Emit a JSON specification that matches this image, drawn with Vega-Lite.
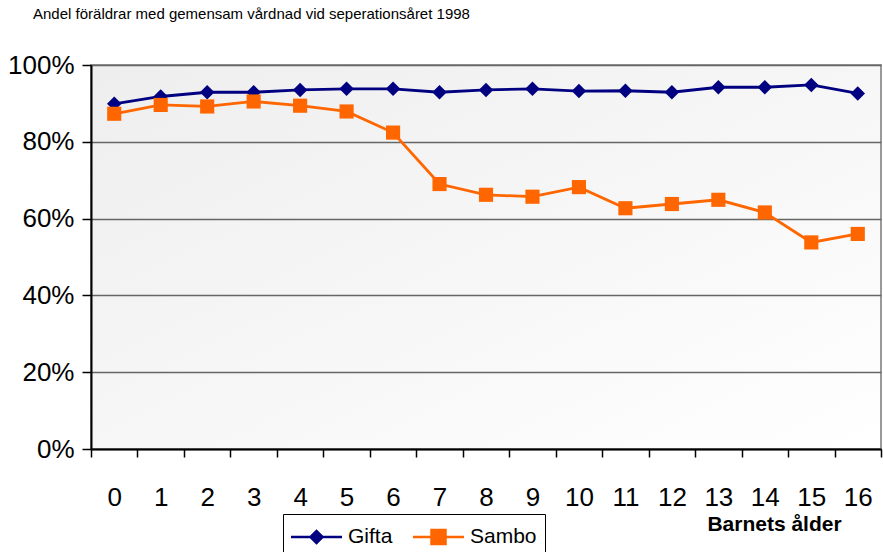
{
  "$schema": "https://vega.github.io/schema/vega-lite/v6.json",
  "width": 790,
  "height": 384,
  "autosize": {"type": "none"},
  "padding": {"left": 91, "top": 65, "right": 2, "bottom": 103},
  "background": "white",
  "title": {
    "text": "Andel föräldrar med gemensam vårdnad vid seperationsåret 1998",
    "anchor": "start",
    "frame": "group",
    "font": "Liberation Sans",
    "fontSize": 15,
    "fontWeight": "normal",
    "color": "black",
    "offset": 30,
    "dx": -58
  },
  "config": {
    "font": "Liberation Sans",
    "view": {
      "fill": {"gradient": "linear", "x1": 0, "y1": 0, "x2": 1, "y2": 1, "stops": [{"offset": 0, "color": "#eeeeee"}, {"offset": 0.6, "color": "#f8f8f8"}, {"offset": 1, "color": "#ffffff"}]},
      "stroke": "#999999",
      "strokeWidth": 2
    }
  },
  "data": {
    "values": [
      {"age": "0", "serie": "Gifta", "andel": 89.9},
      {"age": "1", "serie": "Gifta", "andel": 91.8},
      {"age": "2", "serie": "Gifta", "andel": 92.9},
      {"age": "3", "serie": "Gifta", "andel": 92.9},
      {"age": "4", "serie": "Gifta", "andel": 93.5},
      {"age": "5", "serie": "Gifta", "andel": 93.8},
      {"age": "6", "serie": "Gifta", "andel": 93.8},
      {"age": "7", "serie": "Gifta", "andel": 92.9},
      {"age": "8", "serie": "Gifta", "andel": 93.5},
      {"age": "9", "serie": "Gifta", "andel": 93.8},
      {"age": "10", "serie": "Gifta", "andel": 93.2},
      {"age": "11", "serie": "Gifta", "andel": 93.3},
      {"age": "12", "serie": "Gifta", "andel": 92.9},
      {"age": "13", "serie": "Gifta", "andel": 94.2},
      {"age": "14", "serie": "Gifta", "andel": 94.2},
      {"age": "15", "serie": "Gifta", "andel": 94.8},
      {"age": "16", "serie": "Gifta", "andel": 92.6},
      {"age": "0", "serie": "Sambo", "andel": 87.3},
      {"age": "1", "serie": "Sambo", "andel": 89.6},
      {"age": "2", "serie": "Sambo", "andel": 89.2},
      {"age": "3", "serie": "Sambo", "andel": 90.5},
      {"age": "4", "serie": "Sambo", "andel": 89.4},
      {"age": "5", "serie": "Sambo", "andel": 87.9},
      {"age": "6", "serie": "Sambo", "andel": 82.4},
      {"age": "7", "serie": "Sambo", "andel": 69.0},
      {"age": "8", "serie": "Sambo", "andel": 66.2},
      {"age": "9", "serie": "Sambo", "andel": 65.7},
      {"age": "10", "serie": "Sambo", "andel": 68.2},
      {"age": "11", "serie": "Sambo", "andel": 62.7},
      {"age": "12", "serie": "Sambo", "andel": 63.8},
      {"age": "13", "serie": "Sambo", "andel": 64.9},
      {"age": "14", "serie": "Sambo", "andel": 61.6},
      {"age": "15", "serie": "Sambo", "andel": 53.8},
      {"age": "16", "serie": "Sambo", "andel": 56.0}
    ]
  },
  "encoding": {
    "x": {
      "field": "age",
      "type": "ordinal",
      "sort": null,
      "scale": {"type": "band", "paddingInner": 0, "paddingOuter": 0},
      "axis": {
        "title": "Barnets ålder",
        "titleFont": "Liberation Sans",
        "titleFontSize": 21,
        "titleFontWeight": "bold",
        "titleColor": "black",
        "titleAnchor": null,
        "titleAlign": "center",
        "titleBaseline": "alphabetic",
        "titleX": 683,
        "titleY": 81,
        "labelAngle": 0,
        "labelFontSize": 26,
        "labelColor": "black",
        "labelPadding": 27,
        "tickBand": "extent",
        "tickSize": 8,
        "tickColor": "black",
        "tickWidth": 1.5,
        "domainColor": "black",
        "domainWidth": 2,
        "grid": false
      }
    },
    "y": {
      "field": "andel",
      "type": "quantitative",
      "scale": {"domain": [0, 100], "nice": false, "zero": true},
      "axis": {
        "title": null,
        "values": [0, 20, 40, 60, 80, 100],
        "labelExpr": "datum.value + '%'",
        "labelFontSize": 26,
        "labelColor": "black",
        "labelPadding": 8,
        "tickSize": 9,
        "tickColor": "black",
        "tickWidth": 1.5,
        "domainColor": "black",
        "domainWidth": 2,
        "grid": true,
        "gridColor": "#666666",
        "gridWidth": 1.3
      }
    },
    "color": {
      "field": "serie",
      "type": "nominal",
      "scale": {"domain": ["Gifta", "Sambo"], "range": ["#000080", "#FF6600"]},
      "legend": {
        "title": null,
        "orient": "none",
        "legendX": 192,
        "legendY": 449,
        "direction": "horizontal",
        "strokeColor": "black",
        "fillColor": "white",
        "padding": 8,
        "labelFontSize": 21,
        "labelColor": "black",
        "labelOffset": 27,
        "columnPadding": 20,
        "symbolSize": 900,
        "encode": {
          "symbols": {
            "update": {
              "shape": {"signal": "datum.value === 'Gifta' ? 'M-1,-0.085H2.4V0.085H-1Z M0.7,-0.52L1.22,0L0.7,0.52L0.18,0Z' : 'M-1,-0.085H2.4V0.085H-1Z M0.15,-0.55H1.25V0.55H0.15Z'"},
              "fill": {"signal": "datum.value === 'Gifta' ? '#000080' : '#FF6600'"},
              "size": {"value": 900},
              "stroke": {"value": "transparent"},
              "strokeWidth": {"value": 0},
              "opacity": {"value": 1}
            }
          }
        }
      }
    }
  },
  "layer": [
    {
      "mark": {"type": "line", "strokeWidth": 2.8},
      "encoding": {}
    },
    {
      "transform": [{"filter": "datum.serie === 'Gifta'"}],
      "mark": {"type": "point", "filled": true, "opacity": 1, "shape": "diamond", "size": 210},
      "encoding": {}
    },
    {
      "transform": [{"filter": "datum.serie === 'Sambo'"}],
      "mark": {"type": "point", "filled": true, "opacity": 1, "shape": "square", "size": 200},
      "encoding": {}
    }
  ]
}
